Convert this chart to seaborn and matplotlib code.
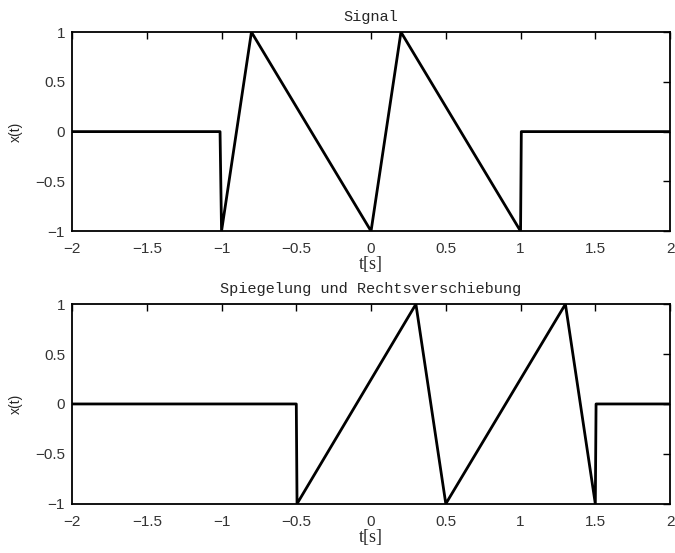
import matplotlib
matplotlib.use("Agg")
import matplotlib.pyplot as plt
import pandas as pd
import seaborn as sns

# Original signal (corner points)
t_signal = [-2.0, -1.01, -1.0, -0.8, 0.0, 0.2, 1.0, 1.005, 2.0]
x_signal = [0.0, 0.0, -1.0, 1.0, -1.0, 1.0, -1.0, 0.0, 0.0]

# Mirrored and right-shifted signal
t_shift = [-2.0, -0.5, -0.495, 0.3, 0.5, 1.3, 1.5, 1.505, 2.0]
x_shift = [0.0, 0.0, -1.0, 1.0, -1.0, 1.0, -1.0, 0.0, 0.0]

titles = ["Signal", "Spiegelung und Rechtsverschiebung"]
xticks = [-2, -1.5, -1, -0.5, 0, 0.5, 1, 1.5, 2]
xticklabels = ["\u22122", "\u22121.5", "\u22121", "\u22120.5", "0", "0.5", "1", "1.5", "2"]
yticks = [-1, -0.5, 0, 0.5, 1]
yticklabels = ["\u22121", "\u22120.5", "0", "0.5", "1"]

sns.set_style("white")
plt.rcParams['font.family'] = ['Liberation Sans', 'DejaVu Sans']

fig = plt.figure(figsize=(6.75, 5.53), dpi=100)
ax1 = fig.add_axes([0.1067, 0.582, 0.886, 0.360])
ax2 = fig.add_axes([0.1067, 0.089, 0.886, 0.361])

data = [(t_signal, x_signal), (t_shift, x_shift)]
for ax, (t, x), title in zip([ax1, ax2], data, titles):
    df = pd.DataFrame({"t": t, "x": x})
    sns.lineplot(data=df, x="t", y="x", sort=False, estimator=None,
                 color="black", linewidth=2.0, ax=ax)
    ax.set_xlim(-2, 2)
    ax.set_ylim(-1, 1)
    ax.set_xticks(xticks)
    ax.set_xticklabels(xticklabels)
    ax.set_yticks(yticks)
    ax.set_yticklabels(yticklabels)
    ax.tick_params(direction="in", length=5, width=1, top=True, right=True,
                   labelsize=11, colors="black", labelcolor="#333333")
    ax.tick_params(axis="x", pad=8)
    ax.tick_params(axis="y", pad=5)
    for s in ax.spines.values():
        s.set_linewidth(1.3)
        s.set_color("black")
    ax.set_xlabel("t[s]", fontsize=13, family=["Liberation Serif"], labelpad=0)
    ax.set_ylabel("x(t)", fontsize=10, labelpad=9)
    ax.set_title(title, fontsize=11, family=["Liberation Mono"], pad=8)

fig.savefig("out.png", dpi=100)
